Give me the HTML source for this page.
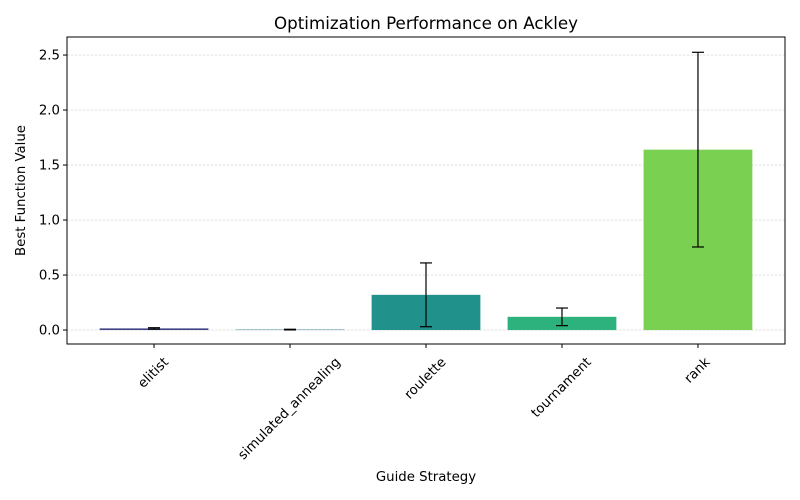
<!DOCTYPE html>
<html><head><meta charset="utf-8"><style>body{margin:0;background:#fff}svg{display:block;font-family:"DejaVu Sans","Liberation Sans",sans-serif}</style></head>
<body>
<svg id="c" width="800" height="500" xmlns="http://www.w3.org/2000/svg"></svg>
<script>
const categories=["elitist","simulated_annealing","roulette","tournament","rank"];
const values=[0.015,0.004,0.32,0.12,1.64];
const errors=[0.006,0.003,0.29,0.08,0.885];
const colors=["#414487","#2a788e","#21918c","#2db27d","#7ad151"];
const yTicks=[0,0.5,1.0,1.5,2.0,2.5];
const yTickLabels=["0.0","0.5","1.0","1.5","2.0","2.5"];
const svg=document.getElementById('c');const NS="http://www.w3.org/2000/svg";
const L=67,R=785,T=37,B=344,ymin=-0.127,ymax=2.664,xmin=-0.64,xmax=4.64;
const x=v=>L+(v-xmin)/(xmax-xmin)*(R-L);
const y=v=>B-(v-ymin)/(ymax-ymin)*(B-T);
function mk(tag,at,name,txt){const e=document.createElementNS(NS,tag);for(const k in at)e.setAttribute(k,at[k]);


if(txt!==undefined)e.textContent=txt;svg.appendChild(e);return e;}
yTicks.forEach((t,i)=>{mk('line',{x1:L,x2:R,y1:y(t),y2:y(t),stroke:'#d0d0d0','stroke-width':0.6,'stroke-dasharray':'2.5,1.5'},'grid-line');
mk('line',{x1:L-4,x2:L,y1:y(t),y2:y(t),stroke:'#000'},'y-tick');
mk('text',{x:L-7,y:y(t)+4.5,'text-anchor':'end','font-size':13.3},'y-tick-label',yTickLabels[i]);});
categories.forEach((c,i)=>{const w=0.8*(x(1)-x(0));const cx=x(i);
mk('rect',{x:cx-w/2,y:Math.min(y(values[i]),y(0)),width:w,height:Math.abs(y(0)-y(values[i])),fill:colors[i]},'bar-'+c);
const lo=y(values[i]-errors[i]),hi=y(values[i]+errors[i]);
mk('line',{x1:cx,x2:cx,y1:lo,y2:hi,stroke:'#000','stroke-width':1.2},'error-bar');
mk('line',{x1:cx-6,x2:cx+6,y1:lo,y2:lo,stroke:'#000','stroke-width':1.2},'error-cap');
mk('line',{x1:cx-6,x2:cx+6,y1:hi,y2:hi,stroke:'#000','stroke-width':1.2},'error-cap');
mk('line',{x1:cx,x2:cx,y1:B,y2:B+4,stroke:'#000'},'x-tick');
const t=mk('text',{x:cx-1,y:0,'text-anchor':'middle','font-size':13.3},'x-tick-label',c);
const tw=t.getComputedTextLength();const cy=B+11+(tw*0.707+13*0.707)/2;
t.setAttribute('y',cy+4.5);t.setAttribute('transform',`rotate(-45 ${cx-1} ${cy})`);});
mk('rect',{x:L,y:T,width:R-L,height:B-T,fill:'none',stroke:'#000','stroke-width':1},'plot-frame');
mk('text',{x:(L+R)/2,y:29,'text-anchor':'middle','font-size':16.7},'chart-title','Optimization Performance on Ackley');
mk('text',{x:(L+R)/2,y:481,'text-anchor':'middle','font-size':13.3},'x-axis-title','Guide Strategy');
mk('text',{x:25,y:(T+B)/2,'text-anchor':'middle','font-size':13.3,transform:`rotate(-90 25 ${(T+B)/2})`},'y-axis-title','Best Function Value');
</script>
</body></html>
